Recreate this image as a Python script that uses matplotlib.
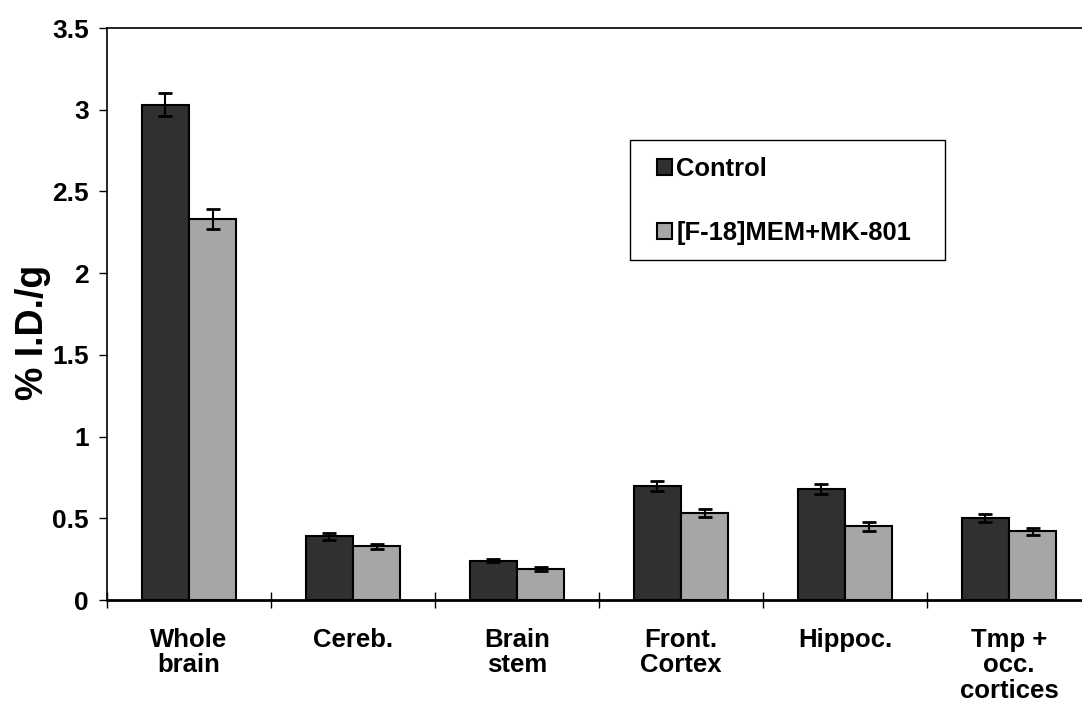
import numpy as np
import matplotlib
matplotlib.use('Agg')
import matplotlib.pyplot as plt
from matplotlib.patches import Rectangle

plt.rcParams['font.family'] = ['Liberation Sans', 'DejaVu Sans']
plt.rcParams['font.weight'] = 'bold'

# Data
regions = ['Whole\nbrain', 'Cereb.', 'Brain\nstem', 'Front.\nCortex', 'Hippoc.', 'Tmp +\nocc.\ncortices']
control = [3.03, 0.39, 0.24, 0.70, 0.68, 0.50]
control_err = [0.07, 0.02, 0.01, 0.03, 0.03, 0.025]
mem = [2.33, 0.33, 0.19, 0.53, 0.45, 0.42]
mem_err = [0.06, 0.015, 0.01, 0.025, 0.025, 0.02]

W, H = 1082, 706
fig = plt.figure(figsize=(W/100, H/100), dpi=100)
ax = fig.add_axes([107/W, 1 - 600/H, 984/W, 572/H])

x = np.arange(len(regions))
w = 0.287
ax.bar(x - w/2, control, w, color='#303030', edgecolor='black', linewidth=1.5,
       label='Control', zorder=2)
ax.bar(x + w/2, mem, w, color='#a6a6a6', edgecolor='black', linewidth=1.5,
       label='[F-18]MEM+MK-801', zorder=2)
ax.errorbar(x - w/2, control, yerr=control_err, fmt='none', ecolor='black',
            elinewidth=1.5, capsize=5, capthick=2, zorder=3)
ax.errorbar(x + w/2, mem, yerr=mem_err, fmt='none', ecolor='black',
            elinewidth=1.5, capsize=5, capthick=2, zorder=3)

ax.set_xlim(-0.5, len(regions) - 0.5)
ax.set_ylim(0, 3.5)
ax.set_yticks(np.arange(0, 3.51, 0.5))
ax.set_yticklabels(['0', '0.5', '1', '1.5', '2', '2.5', '3', '3.5'])
ax.set_xticks(np.arange(-0.5, len(regions), 1.0))
ax.set_xticklabels([])
ax.set_xticks(x, minor=True)
ax.set_xticklabels(regions, minor=True, fontsize=18.5, fontweight='bold',
                   linespacing=1.08, va='top')
ax.tick_params(axis='x', which='major', direction='inout', length=12, width=1)
ax.tick_params(axis='x', which='minor', length=0, pad=20)
ax.tick_params(axis='y', direction='out', length=6, width=1, labelsize=19, pad=7)
for lab in ax.get_yticklabels():
    lab.set_fontweight('bold')
for s in ax.spines.values():
    s.set_linewidth(1.2)
ax.spines['bottom'].set_linewidth(2)

ax.set_ylabel('% I.D./g', fontsize=27, fontweight='bold', labelpad=1)
ax.yaxis.label.set_y((600 - 332) / 572)

# legend frame drawn separately to match the original padding
fig.patches.append(Rectangle((630/W, 1 - 260/H), 315/W, 120/H, transform=fig.transFigure,
                             facecolor='white', edgecolor='black', linewidth=1, zorder=4))
leg = fig.legend(loc='upper left', bbox_to_anchor=(657/W, 1 - 157/H),
                 fontsize=18.4, frameon=False,
                 handlelength=0.6, handleheight=0.55, handletextpad=0.15,
                 labelspacing=1.57, borderpad=0, borderaxespad=0)
leg.set_zorder(5)
for t in leg.get_texts():
    t.set_fontweight('bold')

fig.savefig('out.png', dpi=100)
